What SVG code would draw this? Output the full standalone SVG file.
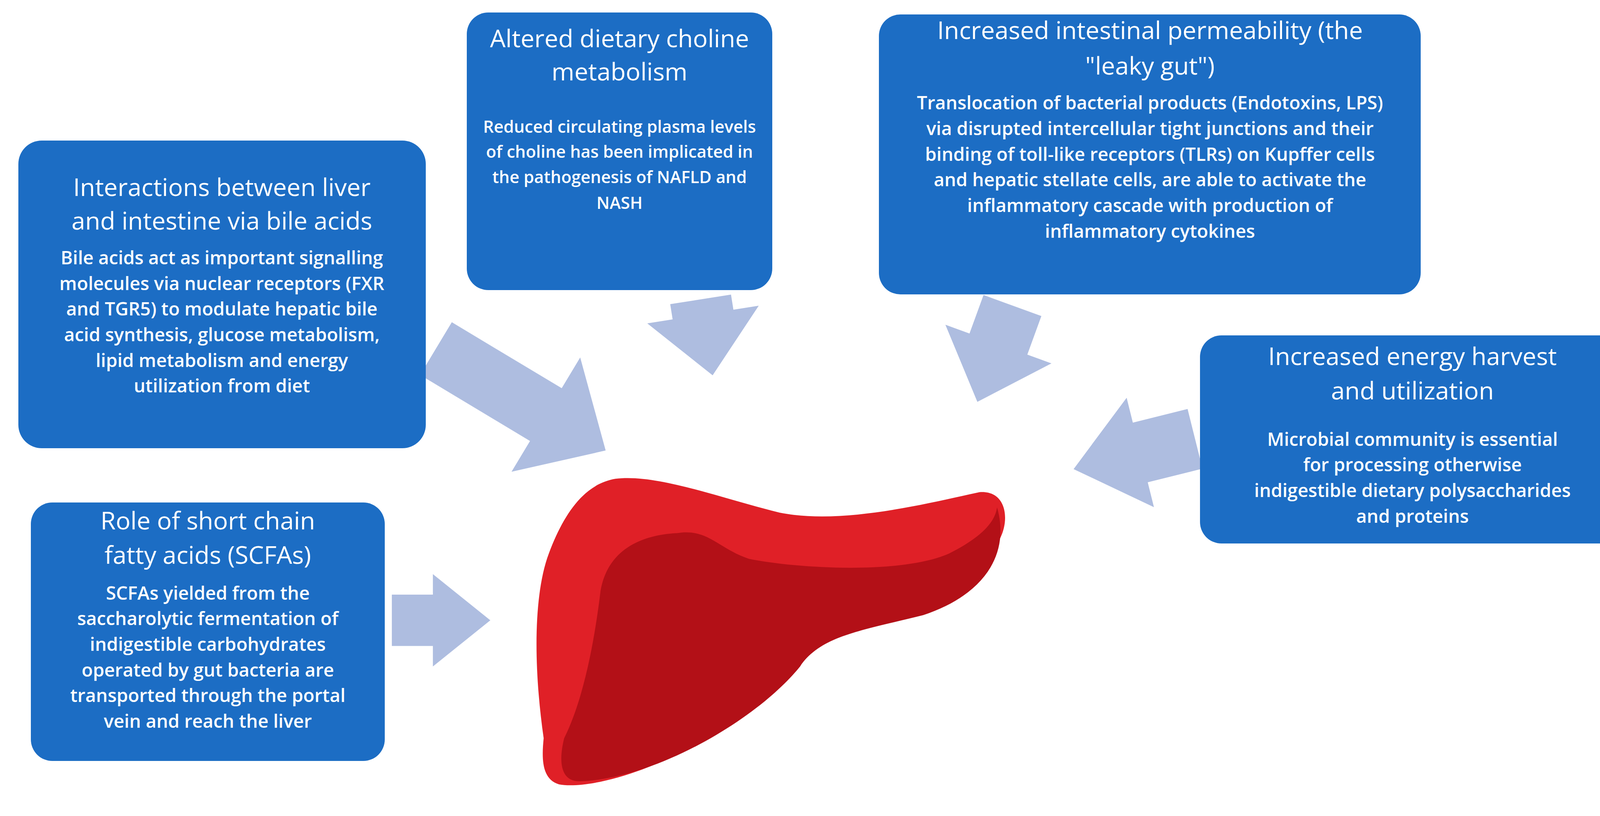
<svg xmlns="http://www.w3.org/2000/svg" width="4201" height="2090" viewBox="0 0 4201 2090">
<style>
.box{fill:#1c6dc4}
.t{font-family:"Open Sans","Liberation Sans",sans-serif;fill:#fff;text-anchor:middle;font-size:63px}
.b{font-family:"Open Sans","Liberation Sans",sans-serif;fill:#fff;text-anchor:middle;font-size:47px;font-weight:600}
.bs{font-size:43px}
.arr{fill:#aebde0}
</style>
<rect width="4201" height="2090" fill="#fff"/>
<g id="connectors" transform="scale(2.626)">
<g transform="translate(425,340) rotate(31)"><polygon class="arr" points="0,-30 125,-30 125,-65 193,0 125,65 125,30 0,30"/></g>
<g transform="translate(683,292) rotate(81)"><polygon class="arr" points="0,-30 15,-30 15,-55 75,0 15,55 15,30 0,30"/></g>
<g transform="translate(987,298) rotate(110)"><polygon class="arr" points="0,-30 40,-30 40,-55 100,0 40,55 40,30 0,30"/></g>
<g transform="translate(1165,428) rotate(166)"><polygon class="arr" points="0,-30 55,-30 55,-55 122,0 55,55 55,30 0,30"/></g>
<g transform="translate(382,605)"><polygon class="arr" points="0,-25 40,-25 40,-45 96,0 40,45 40,25 0,25"/></g>
</g>
<g id="liver" transform="scale(2.626)">
<path fill="#e02027" d="M600,467 C640,462 700,485 760,500 C820,512 900,492 955,480 C980,478 985,505 975,525 C960,575 880,600 810,615 C780,625 760,660 700,710 C640,755 570,770 545,765 C528,760 528,740 530,720 C520,650 520,580 535,540 C550,500 570,472 600,467 Z"/>
<path fill="#b31017" d="M660,520 C690,515 700,535 730,545 C780,555 880,560 925,540 C955,525 970,510 972,495 C985,540 960,580 900,600 C840,615 800,620 780,650 C740,700 640,760 565,762 C545,762 545,740 550,720 C570,680 580,620 585,580 C590,540 620,522 660,520 Z"/>
</g>
<g id="bile">
<rect class="box" x="47" y="360" width="1043" height="788" rx="60"/>
<text class="t" x="568" y="502">Interactions between liver</text>
<text class="t" x="568" y="588">and intestine via bile acids</text>
<text class="b" x="568" y="677">Bile acids act as important signalling</text>
<text class="b" x="568" y="743">molecules via nuclear receptors (FXR</text>
<text class="b" x="568" y="808">and TGR5) to modulate hepatic bile</text>
<text class="b" x="568" y="874">acid synthesis, glucose metabolism,</text>
<text class="b" x="568" y="940">lipid metabolism and energy</text>
<text class="b" x="568" y="1005">utilization from diet</text>
</g>
<g id="choline">
<rect class="box" x="1195" y="32" width="782" height="711" rx="55"/>
<text class="t" x="1586" y="121">Altered dietary choline</text>
<text class="t" x="1586" y="206">metabolism</text>
<text class="b bs" x="1586" y="340">Reduced circulating plasma levels</text>
<text class="b bs" x="1586" y="404">of choline has been implicated in</text>
<text class="b bs" x="1586" y="469">the pathogenesis of NAFLD and</text>
<text class="b bs" x="1586" y="535">NASH</text>
</g>
<g id="leaky">
<rect class="box" x="2250" y="37" width="1387" height="717" rx="55"/>
<text class="t" x="2944" y="100">Increased intestinal permeability (the</text>
<text class="t" x="2944" y="191">"leaky gut")</text>
<text class="b" x="2944" y="280">Translocation of bacterial products (Endotoxins, LPS)</text>
<text class="b" x="2944" y="346">via disrupted intercellular tight junctions and their</text>
<text class="b" x="2944" y="412">binding of toll-like receptors (TLRs) on Kupffer cells</text>
<text class="b" x="2944" y="477">and hepatic stellate cells, are able to activate the</text>
<text class="b" x="2944" y="543">inflammatory cascade with production of</text>
<text class="b" x="2944" y="609">inflammatory cytokines</text>
</g>
<g id="energy">
<rect class="box" x="3072" y="859" width="1088" height="533" rx="55"/>
<text class="t" x="3616" y="935">Increased energy harvest</text>
<text class="t" x="3616" y="1023">and utilization</text>
<text class="b" x="3616" y="1142">Microbial community is essential</text>
<text class="b" x="3616" y="1207">for processing otherwise</text>
<text class="b" x="3616" y="1273">indigestible dietary polysaccharides</text>
<text class="b" x="3616" y="1339">and proteins</text>
</g>
<g id="scfa">
<rect class="box" x="79" y="1287" width="906" height="662" rx="55"/>
<text class="t" x="532" y="1356">Role of short chain</text>
<text class="t" x="532" y="1444">fatty acids (SCFAs)</text>
<text class="b" x="532" y="1536">SCFAs yielded from the</text>
<text class="b" x="532" y="1601">saccharolytic fermentation of</text>
<text class="b" x="532" y="1667">indigestible carbohydrates</text>
<text class="b" x="532" y="1733">operated by gut bacteria are</text>
<text class="b" x="532" y="1798">transported through the portal</text>
<text class="b" x="532" y="1864">vein and reach the liver</text>
</g>
</svg>
